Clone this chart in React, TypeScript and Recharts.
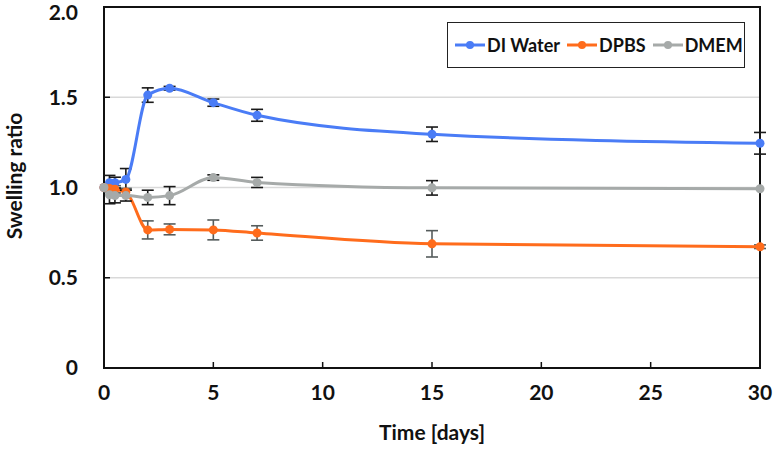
import React from 'react';
import {
  LineChart,
  Line,
  XAxis,
  YAxis,
  CartesianGrid,
  ErrorBar,
  ReferenceArea,
} from 'recharts';

const times = [0, 0.25, 0.5, 1, 2, 3, 5, 7, 15, 30];
const diWater = [1.0, 1.027, 1.027, 1.045, 1.512, 1.55, 1.47, 1.4, 1.295, 1.245];
const diWaterErr = [0.0, 0.04, 0.03, 0.06, 0.04, 0.01, 0.02, 0.033, 0.04, 0.06];
const dpbs = [1.0, 0.995, 0.99, 0.975, 0.765, 0.768, 0.765, 0.748, 0.688, 0.672];
const dpbsErr = [0.0, 0.02, 0.02, 0.02, 0.05, 0.03, 0.055, 0.04, 0.073, 0.01];
const dmem = [1.0, 0.96, 0.955, 0.955, 0.945, 0.955, 1.055, 1.028, 0.998, 0.993];
const dmemErr = [0.0, 0.05, 0.04, 0.03, 0.04, 0.05, 0.015, 0.028, 0.04, 0.0];

const xTicks = [0, 5, 10, 15, 20, 25, 30];
const yTicks = [0, 0.5, 1.0, 1.5, 2.0];
const yTickLabels = ['0', '0.5', '1.0', '1.5', '2.0'];

const seriesNames = ['DI Water', 'DPBS', 'DMEM'];
const seriesColors = ['#4a7cf6', '#ff6c1c', '#a6aaa9'];
const errColors = ['#1a1a1a', '#555c5c', '#1a1a1a'];

const data = times.map((t, i) => ({
  t,
  di: diWater[i],
  diErr: diWaterErr[i],
  dpbs: dpbs[i],
  dpbsErr: dpbsErr[i],
  dmem: dmem[i],
  dmemErr: dmemErr[i],
}));

const FONT = 'Lato, "Open Sans", sans-serif';

const LegendBox = () => (
  <div
    style={{
      position: 'absolute',
      left: 447,
      top: 22,
      width: 298,
      height: 46,
      boxSizing: 'border-box',
      border: '1.5px solid #222',
      background: '#fff',
      display: 'flex',
      alignItems: 'center',
      paddingLeft: 6,
      fontFamily: FONT,
      fontWeight: 700,
      fontSize: 18,
      color: '#111',
      whiteSpace: 'nowrap',
    }}
  >
    {seriesNames.map((name, i) => (
      <div key={name} style={{ display: 'flex', alignItems: 'center', marginRight: 6 }}>
        <svg width={32} height={12} style={{ marginRight: 1 }}>
          <line x1={1} y1={6} x2={31} y2={6} stroke={seriesColors[i]} strokeWidth={3} />
          <circle cx={16} cy={6} r={4} fill={seriesColors[i]} />
        </svg>
        <span>{name}</span>
      </div>
    ))}
  </div>
);

export default function App() {
  return (
    <div style={{ position: 'absolute', left: 0, top: 0, width: 773, height: 449, background: '#fff' }}>
      <LineChart
        width={773}
        height={449}
        data={data}
        margin={{ top: 7, right: 13, bottom: 0, left: 44 }}
      >
        <CartesianGrid vertical={false} stroke="#d9d9d9" strokeWidth={1.5} />
        <XAxis
          type="number"
          dataKey="t"
          domain={[0, 30]}
          ticks={xTicks}
          height={81}
          axisLine={false}
          tickSize={-6}
          tickMargin={23}
          tickLine={{ stroke: '#111', strokeWidth: 1.5 }}
          tick={{ fill: '#111', fontFamily: FONT, fontWeight: 700, fontSize: 21 }}
          label={() => (
            <text
              x={432}
              y={440}
              textAnchor="middle"
              fill="#111"
              fontFamily={FONT}
              fontWeight={700}
              fontSize={21}
            >
              Time [days]
            </text>
          )}
        />
        <YAxis
          type="number"
          domain={[0, 2]}
          ticks={yTicks}
          width={60}
          axisLine={false}
          tickSize={-6}
          tickMargin={32}
          tickLine={{ stroke: '#111', strokeWidth: 1.5 }}
          tickFormatter={(v: number) => yTickLabels[yTicks.indexOf(v)] ?? String(v)}
          tick={{ fill: '#111', fontFamily: FONT, fontWeight: 700, fontSize: 21 }}
          label={() => (
            <text
              x={22}
              y={176}
              transform="rotate(-90 22 176)"
              textAnchor="middle"
              fill="#111"
              fontFamily={FONT}
              fontWeight={700}
              fontSize={21}
            >
              Swelling ratio
            </text>
          )}
        />
        <ReferenceArea
          x1={0}
          x2={30}
          y1={0}
          y2={2}
          fill="none"
          fillOpacity={0}
          stroke="#111"
          strokeWidth={2}
          ifOverflow="visible"
        />
        <Line
          type="monotone"
          dataKey="di"
          name="DI Water"
          stroke={seriesColors[0]}
          strokeWidth={3}
          dot={{ r: 4.5, fill: seriesColors[0], stroke: 'none' }}
          isAnimationActive={false}
        >
          <ErrorBar dataKey="diErr" direction="y" width={6} stroke={errColors[0]} strokeWidth={1.6} />
        </Line>
        <Line
          type="monotone"
          dataKey="dpbs"
          name="DPBS"
          stroke={seriesColors[1]}
          strokeWidth={3}
          dot={{ r: 4.5, fill: seriesColors[1], stroke: 'none' }}
          isAnimationActive={false}
        >
          <ErrorBar dataKey="dpbsErr" direction="y" width={6} stroke={errColors[1]} strokeWidth={1.6} />
        </Line>
        <Line
          type="monotone"
          dataKey="dmem"
          name="DMEM"
          stroke={seriesColors[2]}
          strokeWidth={3}
          dot={{ r: 4.5, fill: seriesColors[2], stroke: 'none' }}
          isAnimationActive={false}
        >
          <ErrorBar dataKey="dmemErr" direction="y" width={6} stroke={errColors[2]} strokeWidth={1.6} />
        </Line>
      </LineChart>
      <LegendBox />
    </div>
  );
}
